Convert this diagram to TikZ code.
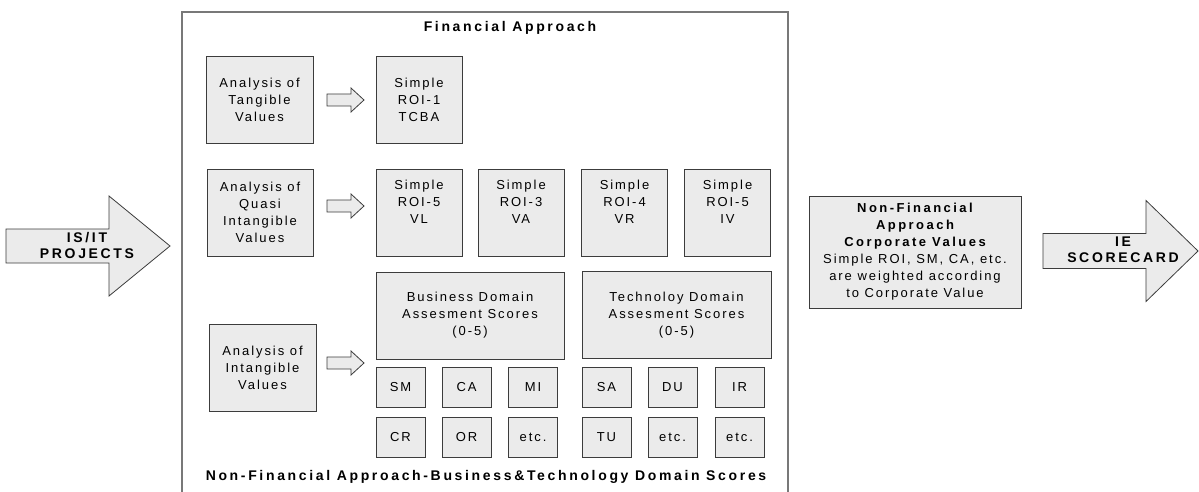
\documentclass[tikz,border=0pt]{standalone}
\usepackage{fontspec}
\setmainfont{Liberation Sans}
\newfontfamily\boxfont[LetterSpace=15]{Liberation Sans}
\newfontfamily\headfont[LetterSpace=19]{Liberation Sans}
\definecolor{boxfill}{RGB}{235,235,235}
\definecolor{boxline}{RGB}{60,60,60}
\definecolor{frameline}{RGB}{120,120,120}
% block arrow: tail x, mid y, length, head base, shaft half, head half
\newcommand{\blockarrow}[6]{%
    \draw[arrowshape] (#1,#2-#5) -- ++(#4,0) -- ++(0,#5-#6) -- (#1+#3,#2)
        -- (#1+#4,#2+#6) -- ++(0,#5-#6) -- (#1,#2+#5) -- cycle;}

\begin{document}
\begin{tikzpicture}[x=1pt,y=-1pt,
    box/.style={draw=boxline,fill=boxfill,line width=0.8pt,align=center,inner sep=0pt,
        font=\boxfont\fontsize{13pt}{17pt}\selectfont},
    big/.style={box,minimum width=107pt,minimum height=87pt},
    roi/.style={box,minimum width=86pt,minimum height=87pt},
    score/.style={box,minimum width=49pt,minimum height=40pt},
    hd/.style={font=\headfont\bfseries\fontsize{14pt}{16pt}\selectfont,align=center,inner sep=0pt},
    arrowshape/.style={draw=boxline,fill=boxfill,line width=0.8pt,line join=miter}]

    \useasboundingbox (0,0) rectangle (1199,492);

    % outer frame, open at the bottom
    \draw[frameline,line width=1.3pt] (182,492) -- (182,12) -- (788,12) -- (788,492);
    \node[hd] (fin) at (510,28) {Financial Approach};
    \node[hd] (nonfin) at (486,477) {Non-Financial Approach-Business\&Technology Domain Scores};

    % big arrows in and out
    \blockarrow{6}{246}{164}{103}{17}{50}
    \node[hd] (proj) at (87,245) {IS/IT\\PROJECTS};
    \blockarrow{1043}{251}{155}{103}{17.5}{50.5}
    \node[hd] (score) at (1123,250) {IE\\SCORECARD};

    % row 1
    \node[big] (tang) at (259.5,99.5) {Analysis of\\Tangible\\Values};
    \blockarrow{327}{100}{37}{24}{6}{12}
    \node[roi] (roiA) at (419,99.5) {Simple\\ROI-1\\TCBA};

    % row 2
    \node[big,minimum width=106pt] (quasi) at (260,212.5) {Analysis of\\Quasi\\Intangible\\Values};
    \blockarrow{327}{206}{37}{24}{6}{12}
    \node[roi] (roiB) at (419,212.5) {Simple\\ROI-5\\VL\\\strut};
    \node[roi] (roiC) at (521,212.5) {Simple\\ROI-3\\VA\\\strut};
    \node[roi] (roiD) at (624.5,212.5) {Simple\\ROI-4\\VR\\\strut};
    \node[roi] (roiE) at (727.5,212.5) {Simple\\ROI-5\\IV\\\strut};

    % row 3
    \node[big] (intang) at (262.5,367.5) {Analysis of\\Intangible\\Values};
    \blockarrow{327}{363}{37}{24}{6}{12}
    \node[box,minimum width=188pt,minimum height=87pt] (bus) at (470,315.5)
        {Business Domain\\Assesment Scores\\(0-5)};
    \node[box,minimum width=189pt,minimum height=87pt] (tech) at (676.5,315)
        {Technoloy Domain\\Assesment Scores\\(0-5)};
    \foreach \name/\lbl/\x in {sm/SM/400.5,ca/CA/466.5,mi/MI/533,sa/SA/606.5,du/DU/672.5,ir/IR/739.5}
        \node[score] (\name) at (\x,387) {\lbl};
    \foreach \name/\lbl/\x in {cr/CR/400.5,or/OR/466.5,etcA/etc./533,tu/TU/606.5,etcB/etc./672.5,etcC/etc./739.5}
        \node[score] (\name) at (\x,437) {\lbl};

    % corporate values
    \node[box,minimum width=212pt,minimum height=112pt] (corp) at (915,252)
        {{\headfont\bfseries Non-Financial}\\{\headfont\bfseries Approach}\\{\headfont\bfseries Corporate Values}\\
         Simple ROI, SM, CA, etc.\\are weighted according\\to Corporate Value};
\end{tikzpicture}
\end{document}
